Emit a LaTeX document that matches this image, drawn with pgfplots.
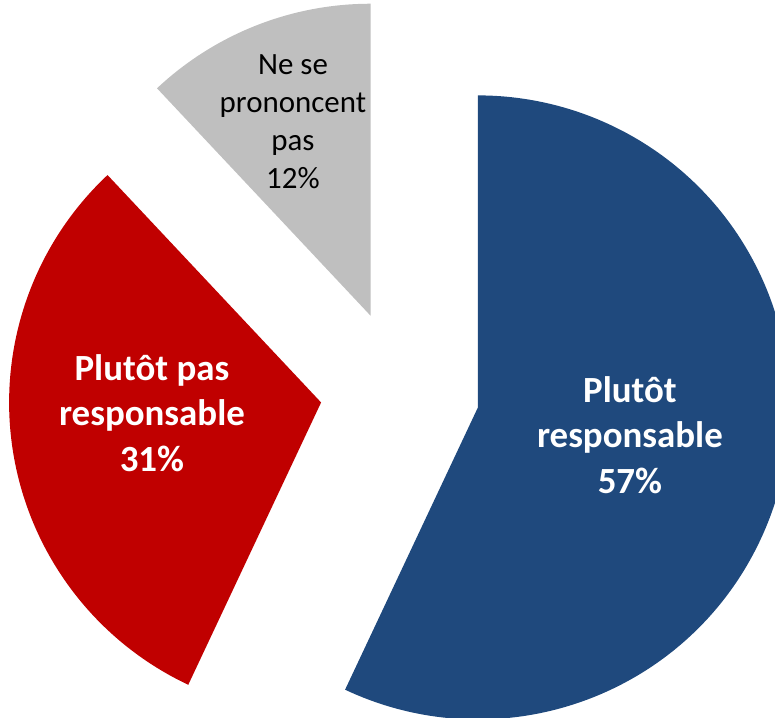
\documentclass[border=0pt]{standalone}
\usepackage{pgfplots}
\usepackage{pgfplotstable}
\pgfplotsset{compat=1.18}
\usepackage{fontspec}
\setmainfont{Carlito}
\definecolor{cblue}{RGB}{31,73,125}
\definecolor{cred}{RGB}{192,0,0}
\definecolor{cgray}{RGB}{191,191,191}

% value (percent), label position x, y (in radius units)
\pgfplotstableread[col sep=comma]{
value,lx,ly
57,0.737,-0.144
31,-0.795,-0.074
12,-0.343,0.859
}\piedata

\begin{document}
\begin{tikzpicture}
\pgfplotstablegetelem{0}{value}\of\piedata \let\va\pgfplotsretval
\pgfplotstablegetelem{1}{value}\of\piedata \let\vb\pgfplotsretval
\pgfplotstablegetelem{2}{value}\of\piedata \let\vc\pgfplotsretval
\pgfplotstablegetelem{0}{lx}\of\piedata \let\lax\pgfplotsretval
\pgfplotstablegetelem{0}{ly}\of\piedata \let\lay\pgfplotsretval
\pgfplotstablegetelem{1}{lx}\of\piedata \let\lbx\pgfplotsretval
\pgfplotstablegetelem{1}{ly}\of\piedata \let\lby\pgfplotsretval
\pgfplotstablegetelem{2}{lx}\of\piedata \let\lcx\pgfplotsretval
\pgfplotstablegetelem{2}{ly}\of\piedata \let\lcy\pgfplotsretval
\def\ex{0.256}
% angles (clockwise from top)
\pgfmathsetmacro\aO{90}
\pgfmathsetmacro\aA{90-3.6*\va}
\pgfmathsetmacro\aB{\aA-3.6*\vb}
\pgfmathsetmacro\aC{\aB-3.6*\vc}
% slice centres (exploded)
\pgfmathsetmacro\mA{(\aO+\aA)/2}
\pgfmathsetmacro\mB{(\aA+\aB)/2}
\pgfmathsetmacro\mC{(\aB+\aC)/2}
\pgfmathsetmacro\cAx{\ex*cos(\mA)}\pgfmathsetmacro\cAy{\ex*sin(\mA)}
\pgfmathsetmacro\cBx{\ex*cos(\mB)}\pgfmathsetmacro\cBy{\ex*sin(\mB)}
\pgfmathsetmacro\cCx{\ex*cos(\mC)}\pgfmathsetmacro\cCy{\ex*sin(\mC)}
\begin{axis}[
  name=ax,
  x=3.12cm, y=3.12cm,
  xmin=-1.282, xmax=1.202,
  ymin=-1.051, ymax=1.25,
  hide axis, clip=true,
]
\fill[cblue] (axis cs:\cAx,\cAy) -- ++(\aA:3.12cm) arc[start angle=\aA, end angle=\aO, radius=3.12cm] -- cycle;
\fill[cred] (axis cs:\cBx,\cBy) -- ++(\aB:3.12cm) arc[start angle=\aB, end angle=\aA, radius=3.12cm] -- cycle;
\fill[cgray] (axis cs:\cCx,\cCy) -- ++(\aC:3.12cm) arc[start angle=\aC, end angle=\aB, radius=3.12cm] -- cycle;
\node[font=\bfseries\fontsize{10.5}{13}\selectfont, text=white, align=center] at (axis cs:\lax,\lay) {Plutôt\\responsable\\57\%};
\node[font=\bfseries\fontsize{10.5}{13}\selectfont, text=white, align=center] at (axis cs:\lbx,\lby) {Plutôt pas\\responsable\\31\%};
\node[font=\fontsize{8.8}{10.8}\selectfont, text=black, align=center] at (axis cs:\lcx,\lcy) {Ne se\\prononcent\\pas\\12\%};
\end{axis}
\pgfresetboundingbox
\path[use as bounding box] (ax.south west) rectangle (ax.north east);
\end{tikzpicture}
\end{document}
